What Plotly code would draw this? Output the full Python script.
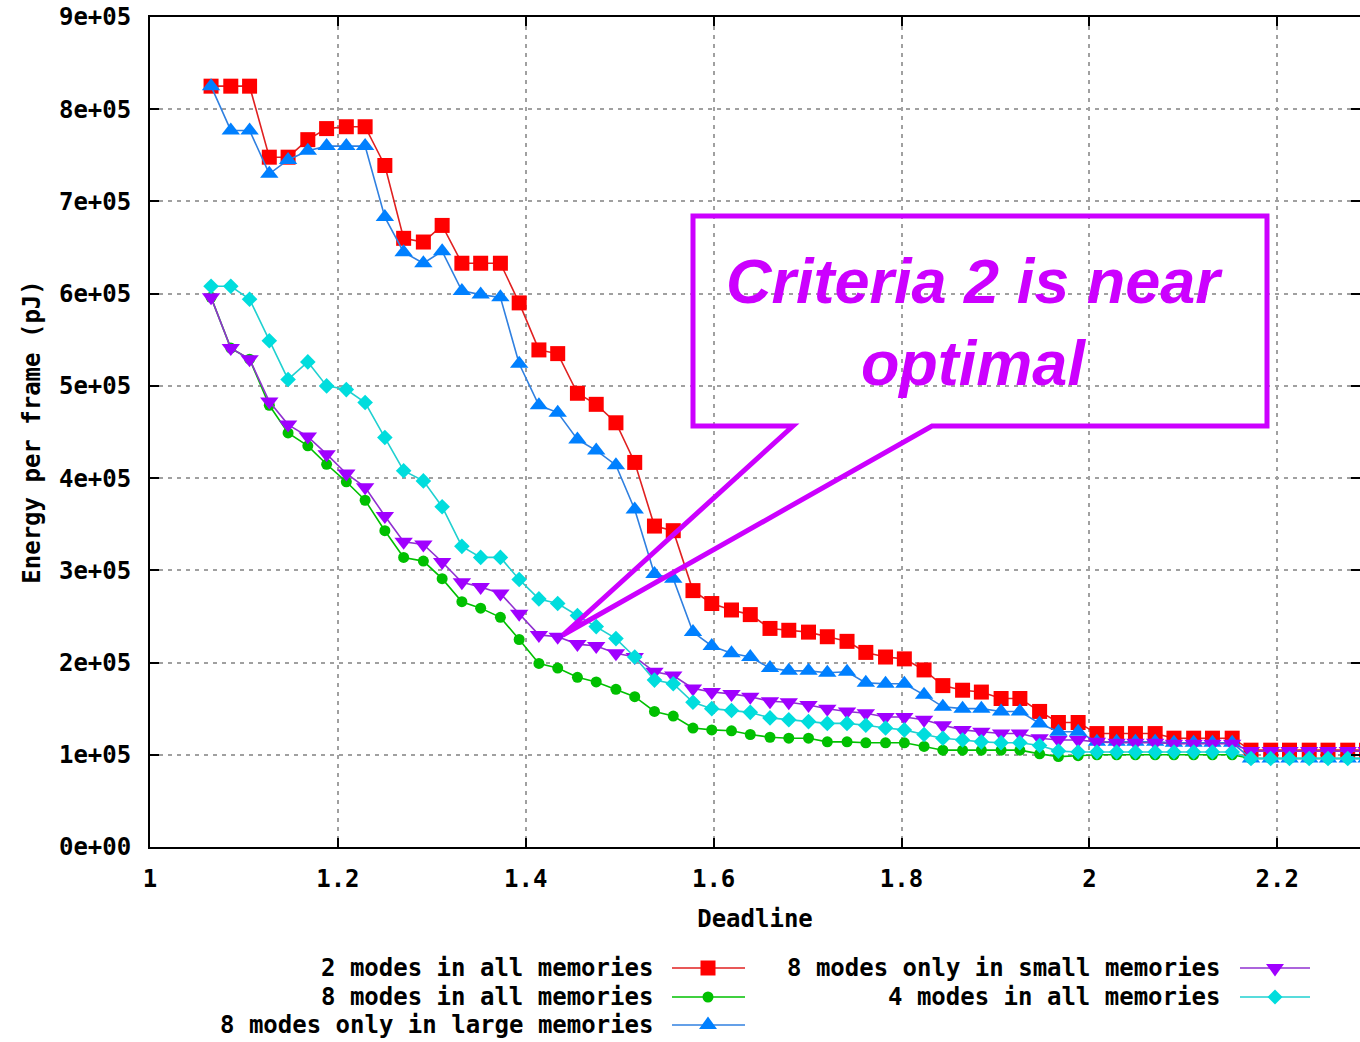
import plotly.graph_objects as go

# ---------------- data ----------------
deadline = [1.065, 1.086, 1.106, 1.127, 1.147, 1.168, 1.188, 1.209, 1.229, 1.250,
            1.270, 1.291, 1.311, 1.332, 1.352, 1.373, 1.393, 1.414, 1.434, 1.455,
            1.475, 1.496, 1.516, 1.537, 1.557, 1.578, 1.598, 1.619, 1.639, 1.660,
            1.680, 1.701, 1.721, 1.742, 1.762, 1.783, 1.803, 1.824, 1.844, 1.865,
            1.885, 1.906, 1.926, 1.947, 1.967, 1.988, 2.008, 2.029, 2.049, 2.070,
            2.090, 2.111, 2.131, 2.152, 2.172, 2.193, 2.213, 2.234, 2.254, 2.275,
            2.295]

# values in units of 1e5 pJ
modes2_all = [8.25, 8.25, 8.25, 7.48, 7.48, 7.67, 7.79, 7.81, 7.81, 7.39,
              6.60, 6.56, 6.74, 6.33, 6.33, 6.33, 5.90, 5.39, 5.35, 4.92,
              4.80, 4.60, 4.17, 3.48, 3.43, 2.78, 2.64, 2.57, 2.52, 2.37,
              2.35, 2.33, 2.28, 2.23, 2.11, 2.06, 2.04, 1.92, 1.75, 1.70,
              1.68, 1.61, 1.61, 1.47, 1.35, 1.35, 1.23, 1.23, 1.23, 1.23,
              1.18, 1.18, 1.18, 1.18, 1.05, 1.05, 1.05, 1.05, 1.05, 1.05,
              1.05]
modes8_all = [5.96, 5.41, 5.29, 4.79, 4.49, 4.35, 4.15, 3.96, 3.76, 3.43,
              3.14, 3.10, 2.91, 2.66, 2.59, 2.49, 2.25, 1.99, 1.94, 1.84,
              1.79, 1.71, 1.63, 1.47, 1.42, 1.29, 1.27, 1.26, 1.22, 1.19,
              1.18, 1.18, 1.14, 1.14, 1.13, 1.13, 1.13, 1.09, 1.05, 1.05,
              1.05, 1.05, 1.05, 1.01, 0.98, 0.99, 1.00, 1.00, 1.00, 1.00,
              1.00, 1.00, 1.00, 1.00, 0.96, 0.96, 0.96, 0.96, 0.96, 0.96,
              0.96]
modes8_large = [8.25, 7.77, 7.77, 7.30, 7.45, 7.55, 7.60, 7.60, 7.60, 6.83,
                6.45, 6.33, 6.46, 6.03, 5.99, 5.96, 5.24, 4.79, 4.71, 4.42,
                4.30, 4.14, 3.66, 2.96, 2.91, 2.33, 2.18, 2.10, 2.06, 1.94,
                1.91, 1.91, 1.89, 1.90, 1.78, 1.77, 1.77, 1.65, 1.52, 1.50,
                1.50, 1.47, 1.47, 1.34, 1.25, 1.25, 1.14, 1.14, 1.14, 1.14,
                1.13, 1.13, 1.13, 1.13, 0.96, 0.96, 0.96, 0.96, 0.96, 0.96,
                0.96]
modes8_small = [5.96, 5.41, 5.29, 4.83, 4.58, 4.45, 4.26, 4.05, 3.90, 3.59,
                3.31, 3.28, 3.09, 2.87, 2.82, 2.75, 2.53, 2.30, 2.28, 2.20,
                2.18, 2.10, 2.06, 1.90, 1.86, 1.72, 1.68, 1.66, 1.63, 1.58,
                1.57, 1.54, 1.50, 1.47, 1.45, 1.41, 1.41, 1.38, 1.32, 1.27,
                1.25, 1.23, 1.23, 1.18, 1.16, 1.16, 1.14, 1.13, 1.13, 1.13,
                1.12, 1.12, 1.12, 1.12, 1.04, 1.04, 1.04, 1.04, 1.04, 1.04,
                1.04]
modes4_all = [6.08, 6.08, 5.94, 5.49, 5.07, 5.26, 5.00, 4.96, 4.82, 4.44,
              4.08, 3.97, 3.69, 3.26, 3.14, 3.14, 2.90, 2.69, 2.64, 2.51,
              2.39, 2.26, 2.06, 1.81, 1.77, 1.57, 1.50, 1.48, 1.46, 1.40,
              1.38, 1.36, 1.34, 1.34, 1.32, 1.29, 1.27, 1.22, 1.18, 1.16,
              1.14, 1.13, 1.13, 1.10, 1.04, 1.03, 1.03, 1.03, 1.03, 1.03,
              1.03, 1.03, 1.03, 1.03, 0.96, 0.96, 0.96, 0.96, 0.96, 0.96,
              0.96]

x_tickvals = [1.0, 1.2, 1.4, 1.6, 1.8, 2.0, 2.2]
x_ticktext = ["1", "1.2", "1.4", "1.6", "1.8", "2", "2.2"]
y_tickvals = [0, 1e5, 2e5, 3e5, 4e5, 5e5, 6e5, 7e5, 8e5, 9e5]
y_ticktext = ["0e+00", "1e+05", "2e+05", "3e+05", "4e+05",
              "5e+05", "6e+05", "7e+05", "8e+05", "9e+05"]

# ---------------- layout geometry ----------------
W, H = 1360, 1042
L, R, T, B = 150, 0, 17, 195
PW, PH = W - L - R, H - T - B


def px(x):
    return (x - L) / PW


def py(y):
    return (H - B - y) / PH


MONO = "DejaVu Sans Mono"
FS = 24
PURPLE_CALLOUT = "#CC00FF"

series = [
    dict(name="2 modes in all memories", y=modes2_all, color="#FF0000", line="#E02020",
         symbol="square", size=15, lx=(672, 745, 708), ly=968, col=1),
    dict(name="8 modes in all memories", y=modes8_all, color="#00C000", line="#00C000",
         symbol="circle", size=11, lx=(672, 745, 708), ly=997, col=1),
    dict(name="8 modes only in large memories", y=modes8_large, color="#0080FF", line="#3080E0",
         symbol="triangle-up", size=16, lx=(672, 745, 708), ly=1025, col=1),
    dict(name="8 modes only in small memories", y=modes8_small, color="#A000FF", line="#9030D0",
         symbol="triangle-down", size=16, lx=(1240, 1310, 1275), ly=968, col=2),
    dict(name="4 modes in all memories", y=modes4_all, color="#00DDDD", line="#20D0D0",
         symbol="diamond", size=12, lx=(1240, 1310, 1275), ly=997, col=2),
]

fig = go.Figure()
for s in series:
    fig.add_trace(go.Scatter(
        x=deadline, y=[v * 1e5 for v in s["y"]], mode="lines+markers", name=s["name"],
        line=dict(color=s["line"], width=1.6),
        marker=dict(symbol=s["symbol"], size=s["size"], color=s["color"], line=dict(width=0)),
        showlegend=False,
    ))

shapes = []
annotations = []

# ---- manual gnuplot-style legend (text left of sample) ----
marker_paths = {
    "square": "M-7.5,-7.5 L7.5,-7.5 L7.5,7.5 L-7.5,7.5 Z",
    "triangle-up": "M-9,-4 L9,-4 L0,8.5 Z",
    "triangle-down": "M-9,4 L9,4 L0,-8.5 Z",
    "diamond": "M0,-7.5 L7.5,0 L0,7.5 L-7.5,0 Z",
}
for s in series:
    x1, x2, xm = s["lx"]
    yy = py(s["ly"])
    text_right = 655 if s["col"] == 1 else 1222
    annotations.append(dict(
        x=px(text_right), y=yy, xref="paper", yref="paper", xanchor="right", yanchor="middle",
        text=s["name"], showarrow=False,
        font=dict(family=MONO, size=FS, color="black", weight="bold")))
    shapes.append(dict(type="line", xref="paper", yref="paper", x0=px(x1), x1=px(x2), y0=yy, y1=yy,
                       line=dict(color=s["line"], width=1.6)))
    if s["symbol"] == "circle":
        shapes.append(dict(type="circle", xref="paper", yref="paper", xsizemode="pixel",
                           ysizemode="pixel", xanchor=px(xm), yanchor=yy,
                           x0=-5.5, x1=5.5, y0=-5.5, y1=5.5,
                           fillcolor=s["color"], line=dict(width=0)))
    else:
        shapes.append(dict(type="path", xref="paper", yref="paper", xsizemode="pixel",
                           ysizemode="pixel", xanchor=px(xm), yanchor=yy,
                           path=marker_paths[s["symbol"]],
                           fillcolor=s["color"], line=dict(width=0)))

# ---- callout box ----
pts = [(793, 426), (563, 635), (932, 426), (1267, 426), (1267, 216), (693, 216), (693, 426)]
path = "M " + " L ".join(f"{px(a):.5f},{py(b):.5f}" for a, b in pts) + " Z"
shapes.append(dict(type="path", xref="paper", yref="paper", path=path,
                   line=dict(color=PURPLE_CALLOUT, width=5), fillcolor="rgba(0,0,0,0)",
                   layer="above"))
annotations.append(dict(
    x=px(974), y=py(322), xref="paper", yref="paper", xanchor="center", yanchor="middle",
    text="Criteria 2 is near<br>optimal", showarrow=False,
    font=dict(family="Liberation Sans", size=63, color=PURPLE_CALLOUT,
              weight="bold", style="italic")))

axis_common = dict(
    showline=True, linecolor="black", linewidth=2, mirror="ticks",
    ticks="inside", ticklen=9, tickwidth=2, tickcolor="black",
    showgrid=True, gridcolor="#A0A0A0", gridwidth=1.5, griddash="4px,5px",
    zeroline=False,
    tickfont=dict(family=MONO, size=FS, color="black", weight="bold"),
)

fig.update_layout(
    width=W, height=H,
    margin=dict(l=L, r=R, t=T, b=B, autoexpand=False),
    paper_bgcolor="white", plot_bgcolor="white",
    xaxis=dict(range=[1.0, 1.0 + PW / 939.4], tickvals=x_tickvals, ticktext=x_ticktext,
               ticklabelstandoff=9,
               title=dict(text="Deadline", standoff=18,
                          font=dict(family=MONO, size=FS, color="black", weight="bold")),
               automargin=False, **axis_common),
    yaxis=dict(range=[0, 9e5], tickvals=y_tickvals, ticktext=y_ticktext,
               ticklabelstandoff=12,
               title=dict(text="Energy per frame (pJ)", standoff=12,
                          font=dict(family=MONO, size=FS, color="black", weight="bold")),
               automargin=False, **axis_common),
    shapes=shapes,
    annotations=annotations,
    showlegend=False,
)

fig.write_html("out.html")
